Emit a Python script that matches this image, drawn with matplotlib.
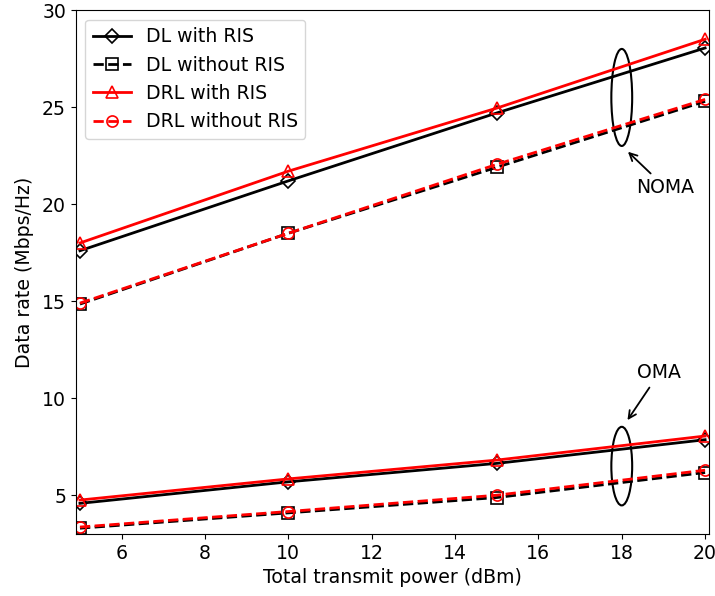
import numpy as np
from matplotlib import pyplot as plt
from matplotlib.patches import Ellipse

# transmit power (dBm)
power = [5, 10, 15, 20]

# NOMA
noma_dl_ris = [17.6, 21.2, 24.7, 28.05]
noma_dl_noris = [14.85, 18.5, 21.9, 25.3]
noma_drl_ris = [18.0, 21.7, 24.95, 28.5]
noma_drl_noris = [14.9, 18.5, 22.05, 25.4]

# OMA
oma_dl_ris = [4.58, 5.69, 6.64, 7.86]
oma_dl_noris = [3.3, 4.09, 4.88, 6.17]
oma_drl_ris = [4.75, 5.84, 6.81, 8.05]
oma_drl_noris = [3.36, 4.16, 5.0, 6.29]

plt.rcParams['font.size'] = 13.6
fig, ax = plt.subplots(figsize=(7.15, 5.96), dpi=100)
fig.subplots_adjust(left=0.106, right=0.992, top=0.983, bottom=0.104)

style = dict(lw=2, ms=8, mfc='none', mew=1.2)
ax.plot(power, noma_dl_ris, 'k-', marker='D', ms=7.5, lw=2, mfc='none', mew=1.2, label='DL with RIS')
ax.plot(power, noma_dl_noris, 'k--', marker='s', label='DL without RIS', **style)
ax.plot(power, noma_drl_ris, 'r-', marker='^', label='DRL with RIS', **style)
ax.plot(power, noma_drl_noris, 'r--', marker='o', label='DRL without RIS', **style)

ax.plot(power, oma_dl_ris, 'k-', marker='D', ms=7.5, lw=2, mfc='none', mew=1.2)
ax.plot(power, oma_dl_noris, 'k--', marker='s', **style)
ax.plot(power, oma_drl_ris, 'r-', marker='^', **style)
ax.plot(power, oma_drl_noris, 'r--', marker='o', **style)

# group markers
ax.add_patch(Ellipse((18.0, 25.5), 0.5, 5.0, fill=False, ec='black', lw=1.5))
ax.add_patch(Ellipse((18.0, 6.5), 0.5, 4.05, fill=False, ec='black', lw=1.5))
ax.annotate('NOMA', xy=(18.1, 22.8), xytext=(19.05, 20.85), ha='center', va='center',
            arrowprops=dict(arrowstyle='->', color='black', lw=1.3))
ax.annotate('OMA', xy=(18.1, 8.75), xytext=(18.9, 11.3), ha='center', va='center',
            arrowprops=dict(arrowstyle='->', color='black', lw=1.3))

ax.set_xlim(4.9, 20.1)
ax.set_ylim(3, 30)
ax.set_xticks([6, 8, 10, 12, 14, 16, 18, 20])
ax.set_yticks([5, 10, 15, 20, 25, 30])
ax.set_xlabel('Total transmit power (dBm)')
ax.set_ylabel('Data rate (Mbps/Hz)', labelpad=6)
ax.legend(loc='upper left')

plt.savefig('out.png', dpi=100)
